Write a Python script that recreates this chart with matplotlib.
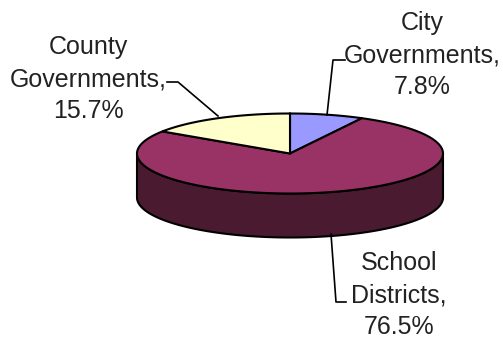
import numpy as np
import matplotlib
matplotlib.use("Agg")
import matplotlib.pyplot as plt
from matplotlib.patches import Polygon

labels = ["City\nGovernments,\n7.8%", "School\nDistricts,\n76.5%", "County\nGovernments,\n15.7%"]
shares = [7.8, 76.5, 15.7]
colors = ["#9999ff", "#993366", "#ffffcc"]
side_color = "#4a1a30"

W, H = 503, 341
cx, cy, rx, ry = 290, 153.5, 153, 40
depth = 44


def rim(a0, a1, n=200):
    # clockwise angles from 12 o'clock, in degrees
    t = np.radians(np.linspace(a0, a1, n))
    return cx + rx * np.sin(t), cy - ry * np.cos(t)


fig = plt.figure(figsize=(W / 100, H / 100), dpi=100)
ax = fig.add_axes([0, 0, 1, 1])
ax.set_xlim(0, W)
ax.set_ylim(H, 0)
ax.axis("off")

# side wall of the disc, front half only
x, y = rim(90, 270)
wall = np.column_stack([np.r_[x, x[::-1]], np.r_[y, y[::-1] + depth]])
ax.add_patch(Polygon(wall, fc=side_color, ec="black", lw=1.5, zorder=1))

# top slices, starting from 12 o'clock going clockwise
start = 0
for share, color in zip(shares, colors):
    end = start + share * 3.6
    x, y = rim(start, end)
    pts = np.column_stack([np.r_[cx, x], np.r_[cy, y]])
    ax.add_patch(Polygon(pts, fc=color, ec="black", lw=1.5, zorder=2))
    start = end

font = dict(family="Liberation Sans", fontsize=18, ha="center", va="center",
            linespacing=1.4, color="#222222")
ax.text(422, 55, labels[0], **font)
ax.text(399, 295, labels[1], **font)
ax.text(88, 79, labels[2], **font)

# leader lines
line = dict(color="black", lw=1.2, zorder=3)
ax.plot([327, 333, 345], [115, 60, 60], **line)
ax.plot([331, 336, 346], [234, 302, 302], **line)
ax.plot([167, 178, 218], [82, 82, 116], **line)

fig.savefig("out.png", dpi=100)
